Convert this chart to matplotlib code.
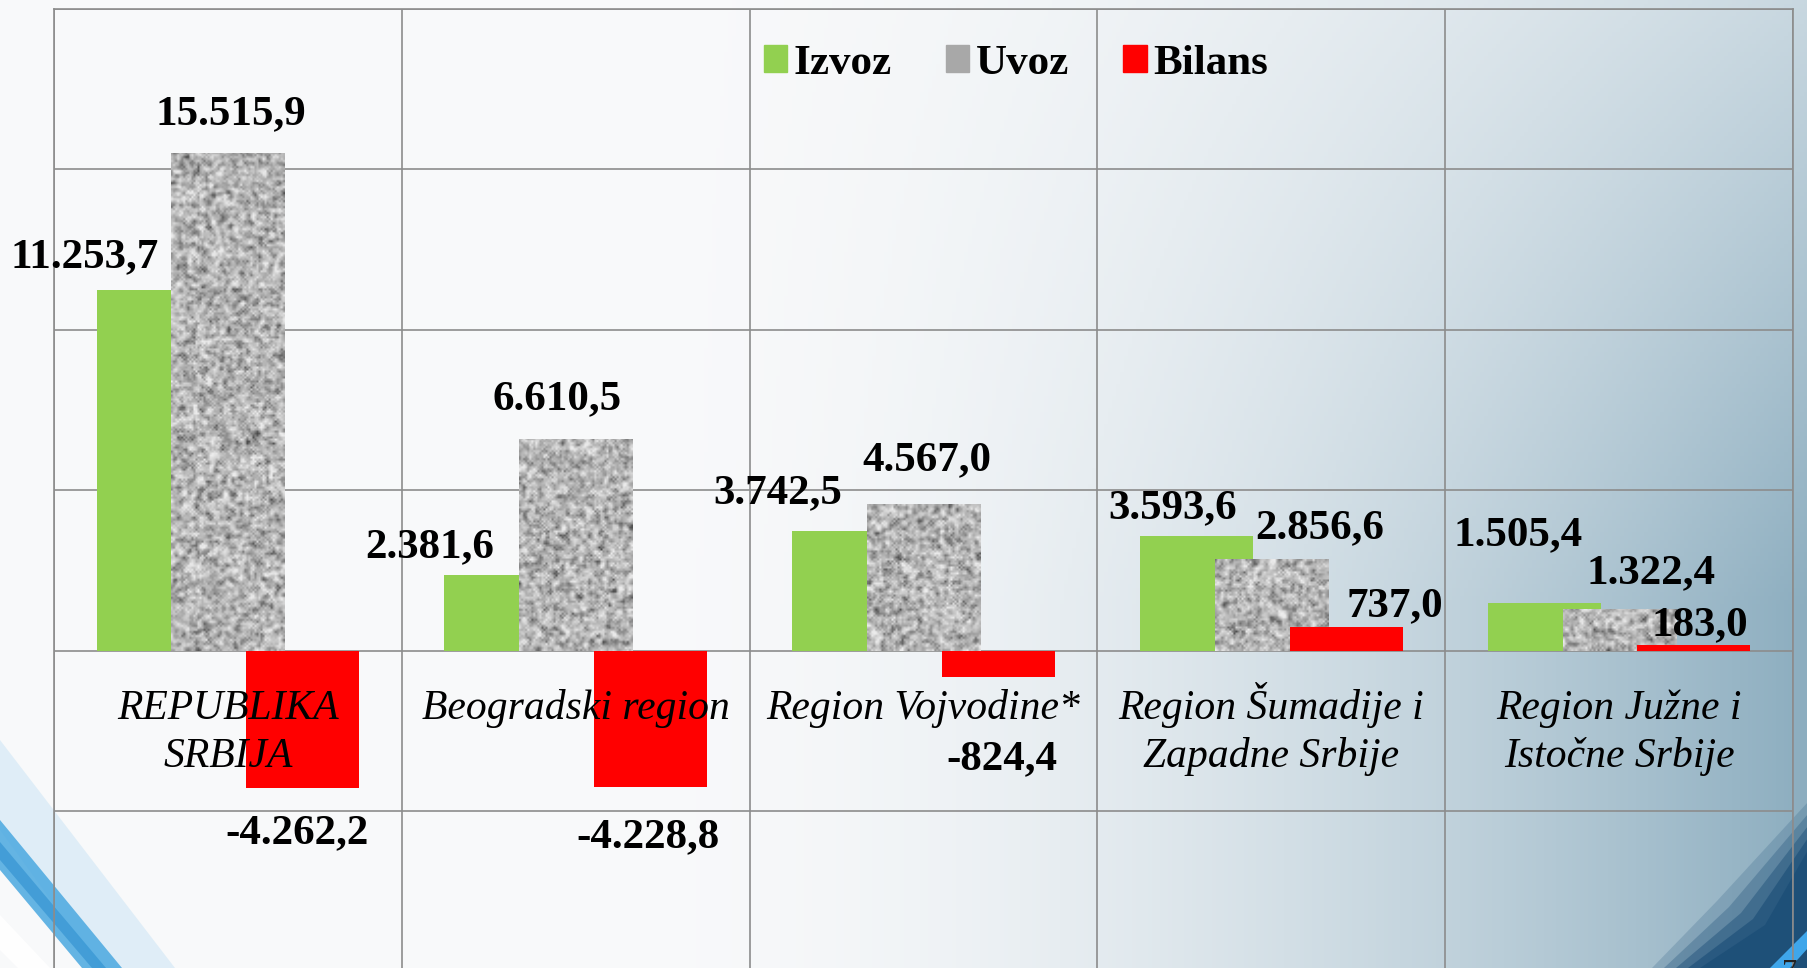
import numpy as np
import matplotlib.pyplot as plt
from matplotlib.patches import Patch, Polygon
from matplotlib.colors import LinearSegmentedColormap

# data (mil. EUR)
regions = ["REPUBLIKA\nSRBIJA", "Beogradski region", "Region Vojvodine*",
           "Region Šumadije i\nZapadne Srbije", "Region Južne i\nIstočne Srbije"]
izvoz = [11253.7, 2381.6, 3742.5, 3593.6, 1505.4]
uvoz = [15515.9, 6610.5, 4567.0, 2856.6, 1322.4]
bilans = [-4262.2, -4228.8, -824.4, 737.0, 183.0]

series_names = ["Izvoz", "Uvoz", "Bilans"]
green = "#92d050"
red = "#ff0000"
grid_col = "#8c8c8c"

# manual label nudges (pixels) like in the original slide
nudge_izvoz = [(-69, 33), (-71, 27), (-71, 38), (-24, 27), (-26, 67)]
nudge_uvoz = [(3, 39), (-19, 40), (3, 44), (48, 31), (32, 35)]
nudge_bilans = [(-6, -45), (-3, -50), (4, -82), (49, 21), (6, 20)]


def fmt(v):
    s = f"{abs(v):,.1f}".replace(",", " ").replace(".", ",").replace(" ", ".")
    return ("-" if v < 0 else "") + s


plt.rcParams['font.family'] = ['Liberation Serif', 'DejaVu Serif']

fig = plt.figure(figsize=(18.08, 9.68), dpi=100)

# background gradient + swooshes
bg = fig.add_axes([0, 0, 1, 1], zorder=-5)
H, W = 242, 452
xx, yy = np.meshgrid(np.linspace(0, 1, W), np.linspace(0, 1, H))
t = np.clip((xx - 0.35) / 0.65, 0, 1) ** 1.8 * (0.45 + 0.55 * np.minimum(1, yy * 1.6))
light = np.array([0.975, 0.978, 0.983])
dark = np.array([0.55, 0.68, 0.75])
grad = light[None, None, :] * (1 - t[..., None]) + dark[None, None, :] * t[..., None]
bg.imshow(grad, extent=[0, 1, 0, 1], origin="upper", aspect="auto")


def px(pts):
    return [(x / 1808, 1 - y / 968) for x, y in pts]


# bottom-left light blue swoosh
bg.add_patch(Polygon(px([(0, 740), (0, 830), (100, 968), (175, 968)]), closed=True,
                     fc="#d5e9f6", ec="none", alpha=0.7))
bg.add_patch(Polygon(px([(0, 820), (0, 870), (82, 968), (122, 968)]), closed=True,
                     fc="#4aa8e0", ec="none", alpha=0.85))
bg.add_patch(Polygon(px([(0, 842), (0, 860), (92, 968), (106, 968)]), closed=True,
                     fc="#2d8fd0", ec="none", alpha=0.6))
bg.add_patch(Polygon(px([(0, 915), (0, 950), (18, 968), (50, 968)]), closed=True,
                     fc="white", ec="none", alpha=0.9))
# bottom-right dark corner
for k, a in enumerate([0.2, 0.3, 0.45, 0.65, 0.9]):
    d = 48 - k * 12
    bg.add_patch(Polygon(px([(1700 - d, 968), (1765 - d, 925 - d / 2), (1808, 850 - d),
                             (1808, 968)]), closed=True, fc="#1d4f78", ec="none", alpha=a))
bg.add_patch(Polygon(px([(1770, 968), (1808, 930), (1808, 948), (1790, 968)]), closed=True,
                     fc="#3fa6ea", ec="none"))
bg.set_xlim(0, 1)
bg.set_ylim(0, 1)
bg.axis("off")

ax = fig.add_axes([0.0299, -0.0041, 0.9618, 0.9948])
ax.patch.set_alpha(0)

x = np.arange(len(regions))
w = 0.325
off = 0.215

b_iz = ax.bar(x - off, izvoz, w, color=green, zorder=2)
b_uv = ax.bar(x, uvoz, w, color="#a8a8a8", zorder=3)
b_bi = ax.bar(x + off, bilans, w, color=red, zorder=4)

# granite-like texture for the Uvoz bars
granite = LinearSegmentedColormap.from_list("granite", ["#4a4a4a", "#a9a9a9", "#ececec"])
rng = np.random.default_rng(7)
for bar in b_uv:
    bx, by = bar.get_x(), bar.get_y()
    bw, bh = bar.get_width(), bar.get_height()
    nh = max(4, int(bh / 30000 * 963 / 2))
    nw = int(113 / 2)
    n = rng.normal(size=(nh + 4, nw + 4))
    n = (n + np.roll(n, 1, 0) + np.roll(n, -1, 0) + np.roll(n, 1, 1) + np.roll(n, -1, 1)) / 5
    n = n[2:-2, 2:-2]
    n = (n - n.mean()) / n.std()
    im = ax.imshow(n, cmap=granite, vmin=-3.2, vmax=2.2, extent=[bx, bx + bw, by, by + bh],
                   aspect="auto", interpolation="bilinear", zorder=3)
    im.set_clip_path(bar)

ax.set_xlim(-0.5, len(regions) - 0.5)
ax.set_ylim(-10000, 20000)
ax.set_xticks(np.arange(-0.5, len(regions)), minor=False)
ax.set_yticks(np.arange(-10000, 20001, 5000))
ax.grid(True, color=grid_col, linewidth=1.2, zorder=0)
ax.set_axisbelow(True)
ax.tick_params(length=0, labelbottom=False, labelleft=False)
for s in ax.spines.values():
    s.set_color(grid_col)
    s.set_linewidth(1.2)

lab_kw = dict(textcoords="offset pixels", ha="center", va="center",
              fontsize=31, fontweight="bold", zorder=6)
for bars, vals, nud in [(b_iz, izvoz, nudge_izvoz), (b_uv, uvoz, nudge_uvoz),
                        (b_bi, bilans, nudge_bilans)]:
    for bar, v, (dx, dy) in zip(bars, vals, nud):
        ax.annotate(fmt(v), (bar.get_x() + bar.get_width() / 2, v), xytext=(dx, dy), **lab_kw)

# category names, one baseline per line
for i, name in enumerate(regions):
    for j, line in enumerate(name.split("\n")):
        ax.annotate(line, (i, 0), xytext=(0, -68 - 48 * j), textcoords="offset pixels",
                    ha="center", va="baseline", fontsize=30, fontstyle="italic", zorder=7)

handles = [Patch(color=green), Patch(color="#a8a8a8"), Patch(color=red)]
ax.legend(handles, series_names, loc="center", bbox_to_anchor=(0.553, 0.943), ncol=3,
          frameon=False, prop=dict(size=31, weight="bold"), handlelength=0.55,
          handleheight=0.6, handletextpad=0.15, columnspacing=1.25)

fig.text(0.99, -0.006, "7", fontsize=22, color="#222222", ha="center", va="center")

fig.savefig("out.png", dpi=100)
